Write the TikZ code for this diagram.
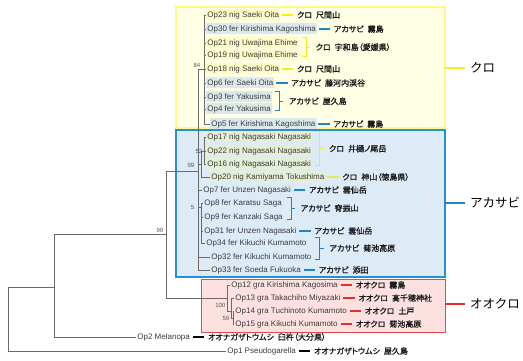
\documentclass[tikz,border=0pt]{standalone}
\usepackage{fontspec}
\setmainfont{Liberation Sans}
\newfontfamily\jpf{Noto Sans CJK JP}[RawFeature=+palt,FakeBold=1.2]
\newfontfamily\jpbig{Noto Sans CJK JP}
\usetikzlibrary{positioning,calc}

\definecolor{treeg}{HTML}{6A6A6A}
\definecolor{labtxt}{HTML}{3C3C3C}
\definecolor{jptxt}{HTML}{1A1A1A}
\definecolor{supg}{HTML}{555555}
\definecolor{yl}{HTML}{F8EC1C}
\definecolor{ylg}{HTML}{E2E85A}
\definecolor{bl}{HTML}{1C86C6}
\definecolor{rd}{HTML}{E2302E}
\definecolor{yfill}{HTML}{FFFFE6}
\definecolor{yedge}{HTML}{FFF98A}
\definecolor{bfill}{HTML}{DDEBF7}
\definecolor{bedge}{HTML}{2B8ED0}
\definecolor{rfill}{HTML}{FDE1E1}
\definecolor{redge}{HTML}{E64848}
\definecolor{hlY}{HTML}{FFFBC8}
\definecolor{hlB}{HTML}{DCE9EC}
\definecolor{hlG}{HTML}{E5EFD3}

% single leaf: dash + locality text
\newcommand{\leafnote}[4]{%
  \node[jp, right=16pt of #2] (#3) {#4};
  \draw[#1] ([xshift=1.5pt]#2.east) -- ([xshift=-3pt]#3.west);}
% bracket joining several leaves: style, top, bottom, widest label, name, text
\newcommand{\grpnote}[6]{%
  \coordinate (#5t) at ($(#4.east |- #2.north)+(2.5,0)$);
  \coordinate (#5b) at ($(#4.east |- #3.east)+(2.5,2)$);
  \draw[#1] (#5t) -- ++(4.5,0) |- (#5b);
  \draw[#1] ($(#5t)!0.5!(#5b)+(4.5,0)$) -- ++(4,0) coordinate (#5k);
  \node[jp, right=5pt of #5k] (#5) {#6};}

\begin{document}
\begin{tikzpicture}[x=1pt,y=-1pt,
  tree/.style={draw=treeg, line width=0.75pt},
  lab/.style={anchor=west, inner xsep=1.2pt, inner ysep=0pt, minimum height=11pt,
    text height=6pt, text depth=1.7pt, font=\fontsize{8}{9}\selectfont, text=labtxt},
  hy/.style={lab, fill=hlY},
  hb/.style={lab, fill=hlB},
  hg/.style={lab, fill=hlG},
  jp/.style={anchor=west, inner sep=0.5pt, font=\jpf\fontsize{8}{9}\selectfont, text=jptxt},
  big/.style={anchor=west, inner sep=0pt, font=\jpbig\fontsize{12.5}{14}\selectfont, text=black},
  sup/.style={inner sep=0.5pt, font=\fontsize{6}{7}\selectfont, text=supg},
  yd/.style={draw=yl, line width=1.3pt},
  gd/.style={draw=ylg, line width=1.3pt},
  bd/.style={draw=bl, line width=1.3pt},
  rdd/.style={draw=rd, line width=1.3pt},
  kd/.style={draw=black, line width=1.3pt},
  yk/.style={draw=yl, line width=1pt},
  gk/.style={draw=ylg, line width=1pt},
  bk/.style={draw=bl, line width=1pt}
]
\useasboundingbox (0,0) rectangle (523,361);

% clade boxes
\draw[fill=yfill, draw=yedge, line width=1.5pt] (176,7) rectangle (445,128);
\draw[fill=bfill, draw=bedge, line width=1.2pt] (176,130) rectangle (445,277);
\draw[fill=rfill, draw=redge, line width=1pt] (201,279) rectangle (445,332);

% taxon labels
\node[hy] (op23) at (206,15) {Op23 nig Saeki Oita};
\node[hb] (op30) at (206,29) {Op30 fer Kirishima Kagoshima};
\node[hy] (op21) at (206,43) {Op21 nig Uwajima Ehime};
\node[hy] (op19) at (206,55) {Op19 nig Uwajima Ehime};
\node[hy] (op18) at (206,69) {Op18 nig Saeki Oita};
\node[hb] (op6)  at (206,83) {Op6 fer Saeki Oita};
\node[hb] (op3)  at (206,97) {Op3 fer Yakusima};
\node[hb] (op4)  at (206,109) {Op4 fer Yakusima};
\node[hb] (op5)  at (210,124) {Op5 fer Kirishima Kagoshima};
\node[hg] (op17) at (206,137) {Op17 nig Nagasaki Nagasaki};
\node[hg] (op22) at (206,151) {Op22 nig Nagasaki Nagasaki};
\node[hg] (op16) at (206,164) {Op16 nig Nagasaki Nagasaki};
\node[hg] (op20) at (210,177) {Op20 nig Kamiyama Tokushima};
\node[lab] (op7)  at (202,190) {Op7 fer Unzen Nagasaki};
\node[lab] (op8)  at (203,203) {Op8 fer Karatsu Saga};
\node[lab] (op9)  at (203,217) {Op9 fer Kanzaki Saga};
\node[lab] (op31) at (203,231) {Op31 fer Unzen Nagasaki};
\node[lab] (op34) at (205,243) {Op34 fer Kikuchi Kumamoto};
\node[lab] (op32) at (210,257) {Op32 fer Kikuchi Kumamoto};
\node[lab] (op33) at (210,270) {Op33 fer Soeda Fukuoka};
\node[lab] (op12) at (230,285) {Op12 gra Kirishima Kagosima};
\node[lab] (op13) at (234,298) {Op13 gra Takachiho Miyazaki};
\node[lab] (op14) at (234,311) {Op14 gra Tuchinoto Kumamoto};
\node[lab] (op15) at (234,324) {Op15 gra Kikuchi Kumamoto};
\node[lab] (op2)  at (136,337) {Op2 Melanopa};
\node[lab] (op1)  at (226,351) {Op1 Pseudogarella};

% internal nodes of the tree
\coordinate (root) at (8,287);
\coordinate (nX) at (54,287);
\coordinate (nA) at (166,234);
\coordinate (nB) at (198,171);
\coordinate (nC) at (204,69);
\coordinate (nD) at (201,164);
\coordinate (nE) at (204,151);
\coordinate (nF) at (201,207);
\coordinate (nR1) at (227,298);
\coordinate (nR2) at (231,311);
\coordinate (nR3) at (233,318);

% branches
\draw[tree] (root) -- (nX);
\draw[tree] (root) -- (root |- op1.west) -- (op1.west);
\draw[tree] (nX |- nA) -- (nX |- op2.west) -- (op2.west);
\draw[tree] (nX |- nA) -- (nA);
\draw[tree] (nA |- nB) -- (nA |- nR1) -- (nR1);
\draw[tree] (nA |- nB) -- (nB);
\draw[tree] (nB |- nC) -- (nB |- op33.west) -- (op33.west);
\draw[tree] (nB |- nC) -- (nC);
\draw[tree] (nB |- nD) -- (nD);
\draw[tree] (nB |- op7.west) -- (op7.west);
\draw[tree] (nB |- nF) -- (nF);
\draw[tree] (nB |- op32.west) -- (op32.west);
\draw[tree] (nC |- op23.west) -- (nC |- op5.west);
\foreach \t in {op23,op30,op21,op19,op18,op6,op3,op4,op5}
  \draw[tree] (nC |- \t.west) -- (\t.west);
\draw[tree] (nD |- nE) -- (nD |- op20.west) -- (op20.west);
\draw[tree] (nD |- nE) -- (nE);
\draw[tree] (nE |- op17.west) -- (nE |- op16.west);
\foreach \t in {op17,op22,op16}
  \draw[tree] (nE |- \t.west) -- (\t.west);
\draw[tree] (nF |- op8.west) -- (nF |- op34.west);
\foreach \t in {op8,op9,op31,op34}
  \draw[tree] (nF |- \t.west) -- (\t.west);
\draw[tree] (nR1 |- op12.west) -- (nR1 |- nR2) -- (nR2);
\draw[tree] (nR1 |- op12.west) -- (op12.west);
\draw[tree] (nR2 |- op13.west) -- (nR2 |- nR3) -- (nR3);
\draw[tree] (nR2 |- op13.west) -- (op13.west);
\draw[tree] (nR3 |- op14.west) -- (nR3 |- op15.west);
\foreach \t in {op14,op15}
  \draw[tree] (nR3 |- \t.west) -- (\t.west);

% bootstrap values
\node[sup, anchor=south east] (s84) at (201,68) {84};
\node[sup, anchor=east] (s52) at (203,151) {52};
\node[sup, anchor=east] (s99a) at (195,165) {99};
\node[sup, anchor=east] (s5) at (195,207) {5};
\node[sup, anchor=south east] (s99b) at (164,233) {99};
\node[sup, anchor=east] (s100) at (226,305) {100};
\node[sup, anchor=east] (s59) at (230,318) {59};

% localities
\leafnote{yd}{op23}{j23}{クロ\hspace{4pt}尺間山}
\leafnote{bd}{op30}{j30}{アカサビ\hspace{4pt}霧島}
\grpnote{yk}{op21}{op19}{op21}{j21}{クロ\hspace{4pt}宇和島（愛媛県）}
\leafnote{yd}{op18}{j18}{クロ\hspace{4pt}尺間山}
\leafnote{bd}{op6}{j6}{アカサビ\hspace{4pt}藤河内渓谷}
\grpnote{bk}{op3}{op4}{op3}{j3}{アカサビ\hspace{4pt}屋久島}
\leafnote{bd}{op5}{j5}{アカサビ\hspace{4pt}霧島}
\grpnote{yk}{op17}{op16}{op17}{j17}{クロ\hspace{4pt}井樋ノ尾岳}
\leafnote{gd}{op20}{j20}{クロ\hspace{4pt}神山（徳島県）}
\leafnote{bd}{op7}{j7}{アカサビ\hspace{4pt}雲仙岳}
\grpnote{bk}{op8}{op9}{op9}{j8}{アカサビ\hspace{4pt}脊振山}
\leafnote{bd}{op31}{j31}{アカサビ\hspace{4pt}雲仙岳}
\grpnote{bk}{op34}{op32}{op32}{j34}{アカサビ\hspace{4pt}菊池高原}
\leafnote{bd}{op33}{j33}{アカサビ\hspace{4pt}添田}
\leafnote{rdd}{op12}{j12}{オオクロ\hspace{4pt}霧島}
\leafnote{rdd}{op13}{j13}{オオクロ\hspace{4pt}高千穂神社}
\leafnote{rdd}{op14}{j14}{オオクロ\hspace{4pt}土戸}
\leafnote{rdd}{op15}{j15}{オオクロ\hspace{4pt}菊池高原}
\leafnote{kd}{op2}{j2}{オオナガザトウムシ\hspace{4pt}臼杵（大分県）}
\leafnote{kd}{op1}{j1}{オオナガザトウムシ\hspace{4pt}屋久島}

% clade names
\node[big] (kuro) at (470,68) {クロ};
\node[big] (akasabi) at (470,203) {アカサビ};
\node[big] (ookuro) at (470,304) {オオクロ};
\coordinate (ky) at (445,68);
\coordinate (kb) at (445,203);
\coordinate (kr) at (445,304);
\draw[draw=yl, line width=1.5pt] (ky) -- ([xshift=-5pt]kuro.west);
\draw[draw=bl, line width=1.5pt] (kb) -- ([xshift=-5pt]akasabi.west);
\draw[draw=rd, line width=1.5pt] (kr) -- ([xshift=-5pt]ookuro.west);
\end{tikzpicture}
\end{document}
